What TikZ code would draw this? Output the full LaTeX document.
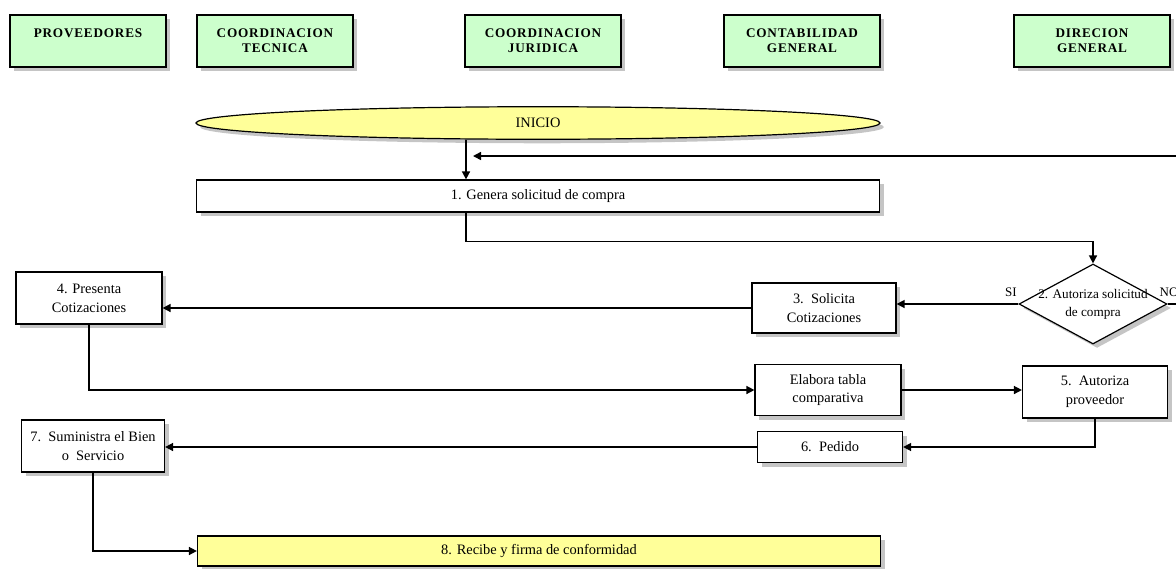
\documentclass[tikz,border=0pt]{standalone}
\usepackage{fontspec}
\setmainfont{Liberation Serif}
\newfontfamily\hdrfont[LetterSpace=6]{Liberation Serif}
\usetikzlibrary{arrows.meta}
\usetikzlibrary{shapes.geometric}
\usetikzlibrary{shadows}
\definecolor{hdrgreen}{RGB}{204,255,204}
\definecolor{startyellow}{RGB}{255,255,153}
\tikzset{
	shade/.style={drop shadow={shadow xshift=2pt,shadow yshift=-2pt,fill=black!45}},
	area/.style={draw,line width=0.6pt,fill=hdrgreen,shade,minimum width=78pt,minimum height=26pt,
		align=center,font=\hdrfont\bfseries\fontsize{6.6}{7.5}\selectfont},
	proc/.style={draw,line width=0.6pt,fill=white,shade,minimum width=72.5pt,minimum height=26pt,
		align=center,font=\fontsize{7.2}{9.4}\selectfont},
	wide/.style={proc,minimum width=341.5pt,minimum height=16pt},
	decide/.style={diamond,draw,line width=0.6pt,fill=white,shade,aspect=1.85,minimum width=74pt,minimum height=40pt,
		inner sep=0pt,align=center,font=\fontsize{6.6}{9}\selectfont},
	tag/.style={font=\fontsize{6.5}{7}\selectfont,inner sep=0pt},
	line/.style={line width=0.75pt},
	flow/.style={line,-{Triangle[length=4pt,width=4pt]}}
}
\begin{document}
\begin{tikzpicture}[x=0.5pt,y=-0.5pt]
	\useasboundingbox (0,0) rectangle (1176,568);
	% areas
	\node[area] (prov) at (88,41) {PROVEEDORES\\\mbox{}};
	\node[area] (tec) at (275,41) {COORDINACION\\TECNICA};
	\node[area] (jur) at (543,41) {COORDINACION\\JURIDICA};
	\node[area] (cont) at (802,41) {CONTABILIDAD\\GENERAL};
	\node[area] (dir) at (1092,41) {DIRECION\\GENERAL};
	% steps
	\node[ellipse,draw,line width=0.6pt,fill=startyellow,shade,minimum width=342pt,minimum height=15pt,
		font=\fontsize{7.2}{9}\selectfont] (inicio) at (538,123) {INICIO};
	\node[wide] (genera) at (538,196) {1. Genera solicitud de compra};
	\node[decide] (autoriza) at (1093,304) {\makebox[36pt][c]{2. Autoriza solicitud}\\de compra};
	\node[proc,minimum width=72pt,minimum height=25pt] (solicita) at (824,308) {3.~~Solicita\\Cotizaciones};
	\node[proc,minimum width=73pt] (presenta) at (89,298) {4. Presenta\\Cotizaciones};
	\node[proc,minimum width=73pt,minimum height=25.5pt] (elabora) at (828,390) {Elabora tabla\\comparativa};
	\node[proc] (autprov) at (1095,392) {5.~~Autoriza\\proveedor};
	\node[proc,minimum height=15.5pt] (pedido) at (830,447) {6.~~Pedido};
	\node[proc,minimum width=71.5pt] (suministra) at (93,446) {7.~~Suministra el Bien\\o~~Servicio};
	\node[wide,fill=startyellow,minimum height=15pt] (recibe) at (539,551) {8. Recibe y firma de conformidad};
	\node[tag] (si) at (1011,292) {SI};
	\node[tag] (no) at (1169,292) {NO};
	% connectors
	\coordinate (drop) at (466,0);
	\coordinate (retin) at (1176,156);
	\coordinate (retout) at (473,156);
	\coordinate (noend) at (1176,304);
	\draw[flow] (drop |- inicio.south) -- (drop |- genera.north);
	\draw[flow] (retin) -- (retout);
	\draw[flow] (drop |- genera.south) -- ++(0,29) -| (autoriza.north);
	\draw[line] (autoriza.east) -- (noend);
	\draw[flow] (autoriza.west) -- (solicita.east |- autoriza.west);
	\draw[flow] (solicita.west) -- (presenta.east |- solicita.west);
	\draw[flow] (presenta.south) |- (elabora.west);
	\draw[flow] (elabora.east) -- (autprov.west |- elabora.east);
	\draw[flow] (autprov.south) |- (pedido.east);
	\draw[flow] (pedido.west) -- (suministra.east |- pedido.west);
	\draw[flow] (suministra.south) |- (recibe.west);
\end{tikzpicture}
\end{document}
